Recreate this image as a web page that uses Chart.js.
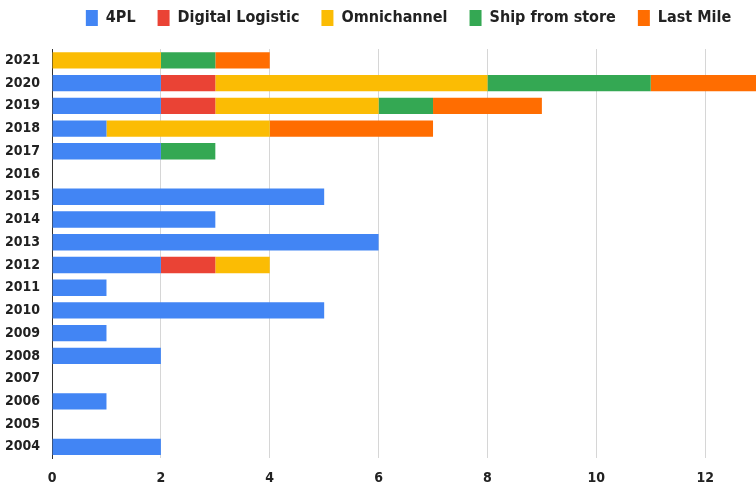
<!DOCTYPE html>
<html>
<head>
<meta charset="utf-8">
<script src="https://cdn.jsdelivr.net/npm/chart.js@4/dist/chart.umd.min.js"></script>
<style>
  html, body { margin: 0; padding: 0; background: #fff; overflow: hidden; }
  #wrap { width: 826px; height: 489px; }
</style>
</head>
<body>
<div id="wrap"><canvas id="chart"></canvas></div>
<script>
const years = ['2021','2020','2019','2018','2017','2016','2015','2014','2013','2012','2011','2010','2009','2008','2007','2006','2005','2004'];
const fourPL        = [0, 2, 2, 1, 2, 0, 5, 3, 6, 2, 1, 5, 1, 2, 0, 1, 0, 2];
const digitalLog    = [0, 1, 1, 0, 0, 0, 0, 0, 0, 1, 0, 0, 0, 0, 0, 0, 0, 0];
const omnichannel   = [2, 5, 3, 3, 0, 0, 0, 0, 0, 1, 0, 0, 0, 0, 0, 0, 0, 0];
const shipFromStore = [1, 3, 1, 0, 1, 0, 0, 0, 0, 0, 0, 0, 0, 0, 0, 0, 0, 0];
const lastMile      = [1, 2, 2, 3, 0, 0, 0, 0, 0, 0, 0, 0, 0, 0, 0, 0, 0, 0];

const family = '"DejaVu Sans Condensed", "Liberation Sans Narrow", Roboto, sans-serif';
const tickFont = { family, size: 14, weight: 'bold' };
const legendFont = { family, size: 16, weight: 'bold' };

function ds(label, data, color) {
  return { label, data, backgroundColor: color, borderWidth: 0, barPercentage: 0.72, categoryPercentage: 1 };
}

// extra room under the legend
const legendGap = {
  id: 'legendGap',
  beforeInit(chart) {
    const fit = chart.legend.fit;
    chart.legend.fit = function () {
      fit.bind(chart.legend)();
      this.height += 13;
    };
  }
};

new Chart(document.getElementById('chart'), {
  type: 'bar',
  data: {
    labels: years,
    datasets: [
      ds('4PL', fourPL, '#4285F4'),
      ds('Digital Logistic', digitalLog, '#EA4335'),
      ds('Omnichannel', omnichannel, '#FBBC04'),
      ds('Ship from store', shipFromStore, '#34A853'),
      ds('Last Mile', lastMile, '#FF6D01')
    ]
  },
  options: {
    indexAxis: 'y',
    responsive: true,
    maintainAspectRatio: false,
    animation: false,
    layout: { padding: { left: 1, right: 10, top: -12, bottom: -10 } },
    plugins: {
      legend: {
        labels: { color: '#222', font: legendFont, boxWidth: 12, boxHeight: 16, padding: 22 }
      },
      tooltip: { enabled: false }
    },
    scales: {
      x: {
        stacked: true,
        min: 0,
        max: 14,
        ticks: { stepSize: 2, color: '#222', font: tickFont, padding: 12, callback: v => (v > 12 ? '' : v) },
        grid: { color: '#d6d6d6', drawTicks: false },
        border: { display: false }
      },
      y: {
        stacked: true,
        ticks: { color: '#222', font: tickFont, padding: 4 },
        grid: { display: false },
        border: { color: '#333', width: 1 }
      }
    }
  },
  plugins: [legendGap]
});
</script>
</body>
</html>
